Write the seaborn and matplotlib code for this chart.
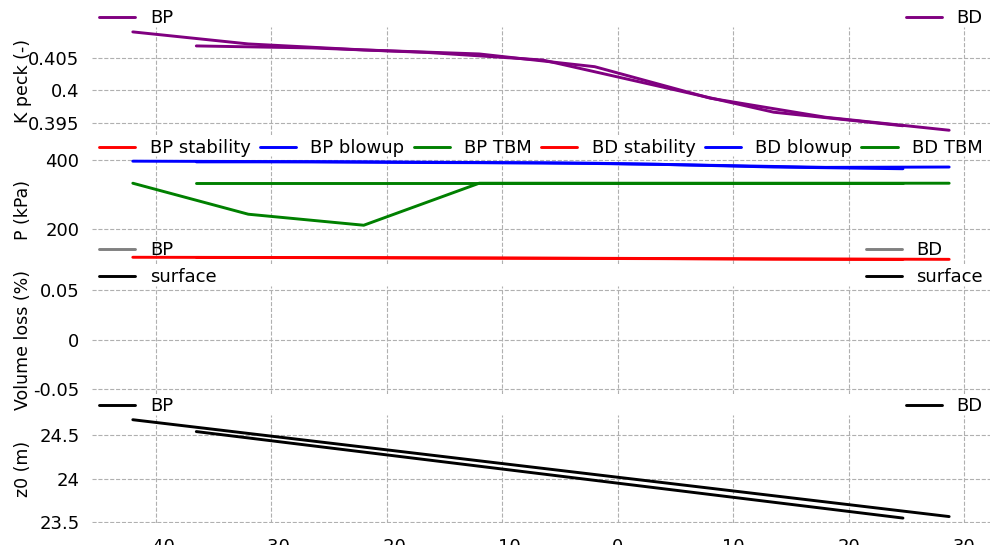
import numpy as np
import matplotlib
matplotlib.use("Agg")
import matplotlib.pyplot as plt
import seaborn as sns
from matplotlib.ticker import FuncFormatter

# ── Data ──────────────────────────────────────────────────────────────────────
x_bp = [-42, -32, -22, -12, -2, 8, 18, 28.7]
x_bd = [-36.5, -26.5, -16.5, -6.5, 3.5, 13.5, 24.7]

kpeck_bp = [0.40905, 0.40719, 0.40626, 0.40564, 0.40367, 0.3988, 0.39585, 0.39384]
kpeck_bd = [0.40688, 0.40657, 0.40587, 0.4047, 0.40067, 0.39663, 0.39453]

stab_bp = [119, 118.5, 118, 117, 116, 115, 114, 113]
stab_bd = [118.5, 118, 117, 116, 115, 113.5, 112.5]
blow_bp = [398, 397, 396, 394, 392, 386, 380, 381]
blow_bd = [396, 396, 394, 393, 389, 381, 376]
tbm_bp = [334, 244, 212, 334, 334, 334, 334, 334]
tbm_bd = [334, 334, 334, 334, 334, 334, 334]

vloss_bp = []      # no volume loss values
vloss_bd = []

z0_bp = [24.67, 24.514, 24.358, 24.202, 24.046, 23.89, 23.734, 23.567]
z0_bd = [24.535, 24.374, 24.213, 24.052, 23.891, 23.730, 23.55]

kpeck_ticks = [0.395, 0.4, 0.405]
p_ticks = [200, 400]
vloss_ticks = [-0.05, 0, 0.05]
z0_ticks = [23.5, 24, 24.5]
x_ticks = [-40, -30, -20, -10, 0, 10, 20, 30]

# ── Style ─────────────────────────────────────────────────────────────────────
sns.set_theme(style="whitegrid", rc={
    "grid.linestyle": "--",
    "grid.color": "#b0b0b0",
    "grid.linewidth": 0.8,
    "axes.edgecolor": "white",
    "font.size": 12,
    "xtick.labelsize": 13,
    "ytick.labelsize": 13,
    "axes.labelsize": 12.5,
    "legend.fontsize": 13,
    "text.color": "black",
    "axes.labelcolor": "black",
    "xtick.color": "black",
    "ytick.color": "black",
})
plt.rcParams["font.family"] = ["DejaVu Sans"]

fig, axes = plt.subplots(4, 1, figsize=(10.02, 5.45), dpi=100, sharex=True)
fig.subplots_adjust(left=0.0918, right=0.988, top=0.9505, bottom=0.0404,
                    hspace=0.195)

lw = 2.1
fmt = FuncFormatter(lambda v, p: f"{v:g}")


def side_legends(ax, left, right, y):
    ax.add_artist(ax.legend(handles=left, loc="center left",
                            bbox_to_anchor=(0, y), borderaxespad=0,
                            frameon=False))
    ax.legend(handles=right, loc="center right", bbox_to_anchor=(1, y),
              borderaxespad=0, frameon=False)


# ── K peck ────────────────────────────────────────────────────────────────────
ax = axes[0]
sns.lineplot(x=x_bp, y=kpeck_bp, ax=ax, color="purple", lw=lw, label="BP", legend=False)
sns.lineplot(x=x_bd, y=kpeck_bd, ax=ax, color="purple", lw=lw, label="BD", legend=False)
l = ax.get_lines()
side_legends(ax, [l[0]], [l[1]], 1.083)
ax.set_yticks(kpeck_ticks)
ax.set_ylabel("K peck (-)")

# ── Pressure ──────────────────────────────────────────────────────────────────
ax = axes[1]
sns.lineplot(x=x_bp, y=stab_bp, ax=ax, color="red", lw=lw, label="BP stability", legend=False)
sns.lineplot(x=x_bp, y=blow_bp, ax=ax, color="blue", lw=lw, label="BP blowup", legend=False)
sns.lineplot(x=x_bp, y=tbm_bp, ax=ax, color="green", lw=lw, label="BP TBM", legend=False)
sns.lineplot(x=x_bd, y=stab_bd, ax=ax, color="red", lw=lw, label="BD stability", legend=False)
sns.lineplot(x=x_bd, y=blow_bd, ax=ax, color="blue", lw=lw, label="BD blowup", legend=False)
sns.lineplot(x=x_bd, y=tbm_bd, ax=ax, color="green", lw=lw, label="BD TBM", legend=False)
ax.legend(handles=ax.get_lines(), loc="center", bbox_to_anchor=(0, 1.074, 1, 0),
          mode="expand", ncol=6, borderaxespad=0, frameon=False)
ax.set_yticks(p_ticks)
ax.set_ylabel("P (kPa)")

# ── Volume loss ───────────────────────────────────────────────────────────────
ax = axes[2]
h_bp, = ax.plot(x_bp[:len(vloss_bp)], vloss_bp, color="gray", lw=lw, label="BP")
h_bd, = ax.plot(x_bd[:len(vloss_bd)], vloss_bd, color="gray", lw=lw, label="BD")
h_s1, = ax.plot([], [], color="black", lw=lw, label="surface")
side_legends(ax, [h_bp, h_s1], [h_bd, h_s1], 1.2)
ax.set_ylim(-0.055, 0.055)
ax.set_yticks(vloss_ticks)
ax.set_ylabel("Volume loss (%)")

# ── z0 ────────────────────────────────────────────────────────────────────────
ax = axes[3]
sns.lineplot(x=x_bp, y=z0_bp, ax=ax, color="black", lw=lw, label="BP", legend=False)
sns.lineplot(x=x_bd, y=z0_bd, ax=ax, color="black", lw=lw, label="BD", legend=False)
l = ax.get_lines()
side_legends(ax, [l[0]], [l[1]], 1.083)
ax.set_yticks(z0_ticks)
ax.set_ylabel("z0 (m)")
ax.set_xticks(x_ticks)

for ax in axes:
    ax.yaxis.set_major_formatter(fmt)
    ax.tick_params(axis="y", length=0, pad=9)
    ax.tick_params(axis="x", length=0, pad=10.5)
    for s in ax.spines.values():
        s.set_visible(False)
    ax.set_xlabel("")
for ax in axes:
    ax.yaxis.set_label_coords(-0.067, 0.5)

fig.savefig("out.png", dpi=100)
